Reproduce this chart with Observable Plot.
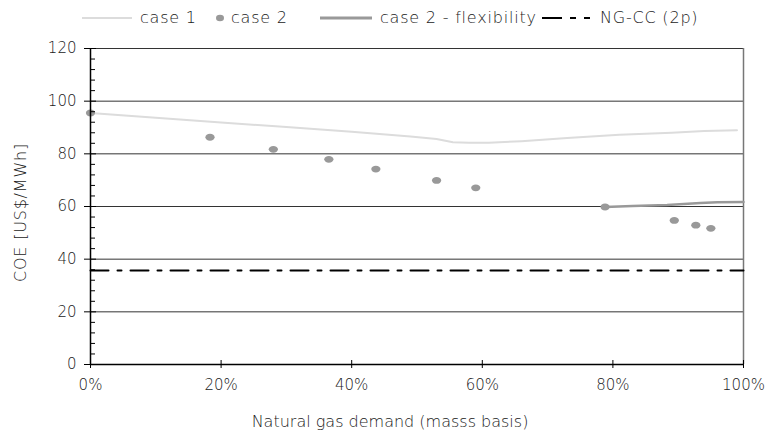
<!DOCTYPE html>
<html>
<head>
<meta charset="utf-8">
<script src="https://cdn.jsdelivr.net/npm/d3@7"></script>
<script src="https://cdn.jsdelivr.net/npm/@observablehq/plot@0.6"></script>
<style>
  body { margin: 0; background: #fff; font-family: "DejaVu Sans", sans-serif; color: #1a1a1a; }
  #legend { height: 38px; position: relative; font-size: 16px; letter-spacing: 0.8px; font-weight: 300; }
  .item { position: absolute; top: 8px; display: flex; align-items: center; white-space: nowrap; }
  .item svg { margin-right: 6px; }
  #chart svg text { font-weight: 300; }
  #chart svg .ylbl text { letter-spacing: 0.8px; }
</style>
</head>
<body>
<div id="legend"></div>
<div id="chart"></div>
<script>
// ---- data ----
const case1X = [0, 10, 20, 30, 40, 49, 53, 55.5, 58, 61, 66, 73, 81, 89, 94, 99];
const case1Y = [95.5, 93.7, 91.9, 90.2, 88.4, 86.6, 85.6, 84.4, 84.2, 84.2, 84.8, 86.0, 87.2, 88.0, 88.7, 89.0];
const case2X = [0, 18.3, 28.0, 36.5, 43.7, 53.0, 59.0, 78.8, 89.4, 92.7, 95.0];
const case2Y = [95.5, 86.3, 81.7, 77.9, 74.2, 69.9, 67.1, 59.8, 54.7, 52.9, 51.7];
const flexX = [78.8, 83, 88.3, 93.4, 96, 100];
const flexY = [59.8, 60.2, 60.6, 61.3, 61.6, 61.7];
const ngccValue = 35.7;
const yMajorTicks = [0, 20, 40, 60, 80, 100, 120];
const yMinorTicks = d3.range(0, 121, 4).filter(v => v % 20 !== 0);
const xTicks = [0, 20, 40, 60, 80, 100];
const seriesNames = ["case 1", "case 2", "case 2 - flexibility", "NG-CC (2p)"];
const xTitle = "Natural gas demand (masss basis)";
const yTitle = "COE [US$/MWh]";

const case1 = case1X.map((x, i) => ({x, y: case1Y[i]}));
const case2 = case2X.map((x, i) => ({x, y: case2Y[i]}));
const flex = flexX.map((x, i) => ({x, y: flexY[i]}));
const ngcc = [{x: 0, y: ngccValue}, {x: 100, y: ngccValue}];

const c1Color = "#dcdcdc", c2Color = "#999999", flexColor = "#999999", ngColor = "#000";
const dash = "18,9,4,9";

// ellipse symbol (markers in the reference are slightly wider than tall)
const ellipse = {
  draw(ctx, size) {
    const r = Math.sqrt(size / Math.PI);
    const rx = r * 1.25, ry = r * 0.92, k = 0.5523;
    ctx.moveTo(rx, 0);
    ctx.bezierCurveTo(rx, ry * k, rx * k, ry, 0, ry);
    ctx.bezierCurveTo(-rx * k, ry, -rx, ry * k, -rx, 0);
    ctx.bezierCurveTo(-rx, -ry * k, -rx * k, -ry, 0, -ry);
    ctx.bezierCurveTo(rx * k, -ry, rx, -ry * k, rx, 0);
    ctx.closePath();
  }
};

// ---- legend ----
const legend = document.getElementById("legend");
const items = [
  {name: seriesNames[0], left: 82, sw: `<svg width="52" height="10"><line x1="0" y1="5" x2="50" y2="5" stroke="${c1Color}" stroke-width="2"/></svg>`},
  {name: seriesNames[1], left: 215, sw: `<svg width="10" height="10"><ellipse cx="5" cy="5" rx="4" ry="3.2" fill="${c2Color}"/></svg>`},
  {name: seriesNames[2], left: 320, sw: `<svg width="54" height="10"><line x1="0" y1="5" x2="52" y2="5" stroke="${flexColor}" stroke-width="3"/></svg>`},
  {name: seriesNames[3], left: 542, sw: `<svg width="52" height="10"><line x1="0" y1="5" x2="50" y2="5" stroke="#000" stroke-width="2" stroke-dasharray="20,8,6,8,6,8"/></svg>`}
];
for (const it of items) {
  const d = document.createElement("div");
  d.className = "item";
  d.style.left = it.left + "px";
  d.innerHTML = it.sw + `<span>${it.name}</span>`;
  legend.appendChild(d);
}

// ---- chart ----
const chart = Plot.plot({
  width: 768,
  height: 398,
  marginLeft: 90,
  marginRight: 25,
  marginTop: 10,
  marginBottom: 72,
  style: {fontFamily: "'DejaVu Sans', sans-serif", fontSize: "15px", color: "#1a1a1a", background: "#fff", overflow: "visible"},
  x: {domain: [0, 100]},
  y: {domain: [0, 120]},
  marks: [
    Plot.gridY(yMajorTicks, {stroke: "#333", strokeOpacity: 1, strokeWidth: 1}),
    Plot.ruleX([100], {y1: 0, y2: 120, stroke: "#777", strokeWidth: 1.5}),
    Plot.line(ngcc, {x: "x", y: "y", stroke: ngColor, strokeWidth: 2, strokeDasharray: dash}),
    Plot.line(case1, {x: "x", y: "y", stroke: c1Color, strokeWidth: 2}),
    Plot.line(flex, {x: "x", y: "y", stroke: flexColor, strokeWidth: 2.5}),
    Plot.dot(case2, {x: "x", y: "y", r: 3.7, symbol: ellipse, fill: c2Color, stroke: null}),
    Plot.axisY({ticks: yMajorTicks, tickSize: 6, tickPadding: 8, label: null, stroke: "#000"}),
    Plot.text([yTitle], {frameAnchor: "left", dx: -70, dy: 6, rotate: -90, textAnchor: "middle", text: d => d, fontSize: 16, fill: "#1a1a1a", className: "ylbl"}),
    Plot.text([xTitle], {frameAnchor: "bottom", dx: -27, dy: 62, text: d => d, fontSize: 16, fill: "#1a1a1a"}),
    Plot.axisY({ticks: yMajorTicks, tickSize: -6, text: null, label: null, stroke: "#000"}),
    Plot.axisY({ticks: yMinorTicks, tickSize: -5, text: null, label: null, stroke: "#000"}),
    Plot.ruleX([0], {stroke: "#000", strokeWidth: 1.5}),
    Plot.ruleY([0], {stroke: "#000", strokeWidth: 1.5}),
    Plot.axisX({ticks: xTicks, tickSize: 4, tickPadding: 11, tickFormat: d => d + "%", label: null, stroke: "#000"}),
    Plot.axisX({ticks: xTicks, tickSize: -4, text: null, label: null, stroke: "#000"})
  ]
});
document.getElementById("chart").appendChild(chart);
</script>
</body>
</html>
